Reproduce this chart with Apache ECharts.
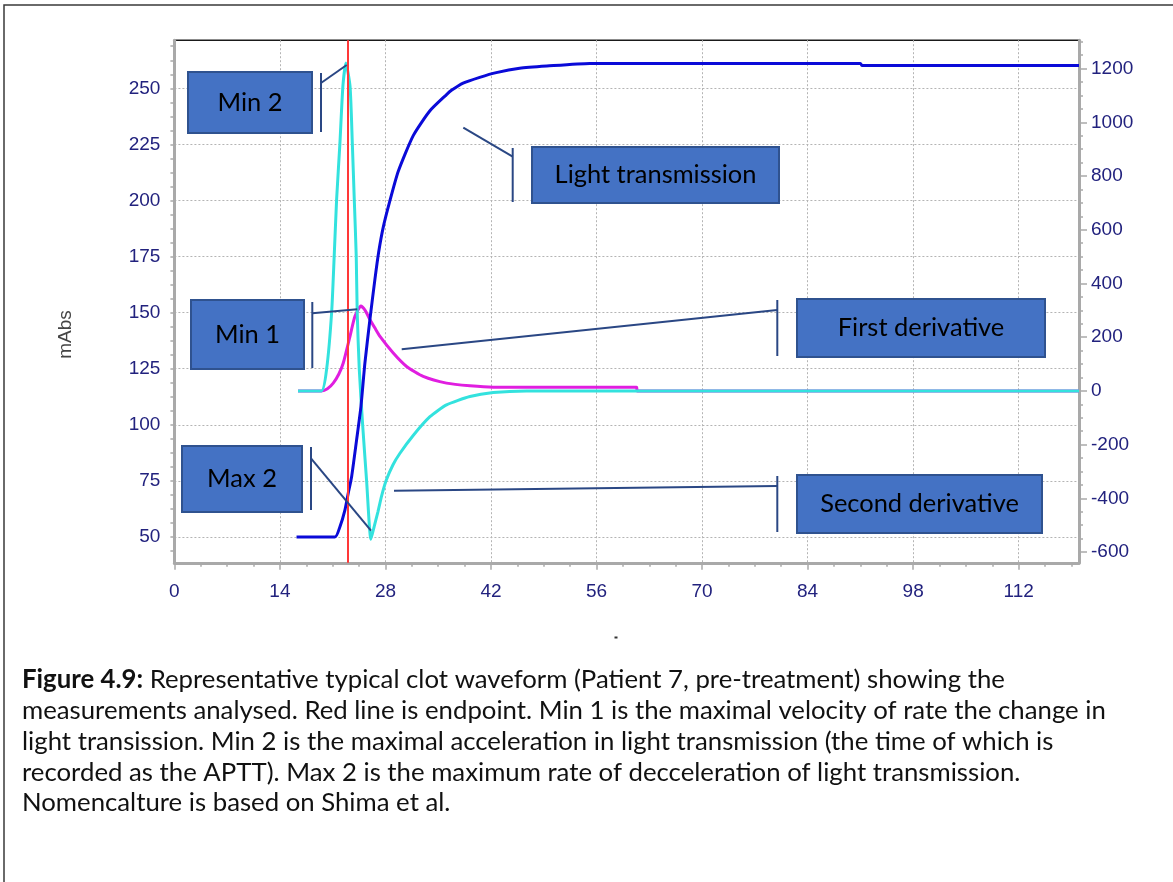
<!DOCTYPE html>
<html>
<head>
<meta charset="utf-8">
<script src="https://cdn.jsdelivr.net/npm/echarts@6/dist/echarts.min.js"></script>
<style>
html,body{margin:0;padding:0;background:#fff;}
#c{width:1173px;height:882px;}
</style>
</head>
<body>
<div id="c"></div>
<script>
// ---------------- DATA ----------------
// Light transmission (mAbs, left axis)
const ltTime  = [16.2, 21.3, 21.96, 22.62, 23.06, 23.51, 24.17, 24.74, 25.27, 25.93, 26.59, 27.1, 27.7, 28.6, 29.7, 31.7, 33.9, 36.1, 36.8, 38.3, 40.5, 42.7, 45.8, 49.4, 55.1, 91.0, 91.2, 120];
const ltValue = [50, 50, 54.6, 62, 69.5, 76.9, 93.3, 108, 127.5, 146.8, 164.6, 177, 188, 200, 213, 229, 240, 247.2, 249.2, 252.3, 254.9, 257, 258.9, 259.9, 261.1, 261.1, 260.2, 260.2];
// First derivative (right axis)
const d1Time  = [16.4, 19.5, 20.3, 21.07, 21.8, 22.4, 23.29, 23.95, 24.74, 25.3, 25.93, 26.6, 27.27, 29.03, 30.8, 33.0, 36.1, 39.2, 42.3, 61.3, 61.4, 120];
const d1Value = [0, 0, 8, 29, 62, 104, 203, 278, 316, 300, 266, 234, 203, 141, 91, 54, 29, 19, 14, 14, 0, 0];
// Second derivative (right axis)
const d2Time  = [16.4, 19.5, 20.2, 20.86, 21.2, 21.52, 21.96, 22.35, 22.75, 23.3, 23.6, 23.86, 24.12, 24.25, 24.52, 24.97, 25.5, 26.07, 26.5, 27.0, 27.5, 28.1, 29.0, 29.9, 31.7, 33.9, 36.1, 39.2, 42.3, 46.7, 120];
const d2Value = [0, 0, 83, 293, 503, 714, 924, 1134, 1221, 1134, 924, 714, 503, 293, 83, -126, -336, -552, -505, -450, -390, -333, -275, -233, -165, -96, -52, -21, -6, 0, 0];
// Endpoint (red line)
const endpointTime = 23.06;
// Tick labels
const xTicks = [0, 14, 28, 42, 56, 70, 84, 98, 112];
const leftTicks = [50, 75, 100, 125, 150, 175, 200, 225, 250];
const rightTicks = [-600, -400, -200, 0, 200, 400, 600, 800, 1000, 1200];
const yAxisName = 'mAbs';
const annotations = ['Min 2', 'Min 1', 'Max 2', 'Light transmission', 'First derivative', 'Second derivative'];
const captionLines = [
  '{b|Figure 4.9:} Representative typical clot waveform (Patient 7, pre-treatment) showing the',
  'measurements analysed. Red line is endpoint. Min 1 is the maximal velocity of rate the change in',
  'light transission. Min 2 is the maximal acceleration in light transmission (the time of which is',
  'recorded as the APTT). Max 2 is the maximum rate of decceleration of light transmission.',
  'Nomencalture is based on Shima et al.'
];

// ---------------- LAYOUT ----------------
const X_MIN = 0, X_MAX = 120;
const L_MIN = 38.5, L_MAX = 271.44;
const R_MIN = -640, R_MAX = 1306;
const AXIS_GRAY = '#a9a9a9';
const LABEL_COLOR = '#22227e';
const TICK_FONT = 'Liberation Sans';
const TICK_SIZE = 19;
const TEXT_FONT = 'Lato';

function zip(a, b) { return a.map((v, i) => [v, b[i]]); }
function minorBetween(majors, step, lo, hi) {
  const out = [];
  const start = Math.ceil((lo - majors[0]) / step);
  for (let v = majors[0] + start * step; v <= hi + 1e-9; v += step) {
    const isMajor = majors.some(m => Math.abs(m - v) < 1e-6);
    if (!isMajor && v > lo + 1e-6 && v < hi - 1e-6) out.push(+v.toFixed(4));
  }
  return out;
}
const xMinor = minorBetween(xTicks, 3.5, X_MIN, X_MAX);
const leftMinor = minorBetween(leftTicks, 6.25, L_MIN, L_MAX);
const rightMinor = minorBetween(rightTicks, 50, R_MIN, R_MAX);

// text measuring for font-size fitting
const mctx = document.createElement('canvas').getContext('2d');
function tw(text, font) { mctx.font = font; return mctx.measureText(text).width; }
const capSize = 20 * 1084 / tw(captionLines[1], '20px ' + TEXT_FONT);
const boxSize = 20 * 202 / tw('Light transmission', '20px ' + TEXT_FONT);

const chart = echarts.init(document.getElementById('c'), null, {renderer: 'canvas'});

const labelStyle = {fontFamily: TICK_FONT, fontSize: TICK_SIZE, color: LABEL_COLOR, formatter: v => String(v)};

const boxes = [
  {t: annotations[0], x: 188, y: 72,  w: 124, h: 61, bar: [321, 73, 132],   diag: [321, 83, 346.7, 65]},
  {t: annotations[1], x: 191, y: 300, w: 113, h: 69, bar: [312.3, 302, 368], diag: [312.3, 313.3, 357.3, 309.3]},
  {t: annotations[2], x: 182, y: 446, w: 120, h: 66, bar: [311, 447, 510],   diag: [311, 458.3, 371, 530.7]},
  {t: annotations[3], x: 532, y: 147, w: 247, h: 56, bar: [512.7, 148, 202], diag: [512.7, 156.7, 463.3, 127.7]},
  {t: annotations[4], x: 797, y: 299, w: 248, h: 58, bar: [777.3, 300, 356], diag: [777.3, 310, 401.7, 349.3]},
  {t: annotations[5], x: 797, y: 475, w: 245, h: 58, bar: [777.3, 476, 532], diag: [777.3, 486, 394, 490.7]}
];
const CONN = '#2a4784';

const graphics = [];
// outer frame
graphics.push({type: 'rect', z: 0, silent: true, shape: {x: 4, y: 5, width: 1300, height: 1000},
  style: {fill: 'none', stroke: '#3a3a3a', lineWidth: 1.5}});
// y axis name
graphics.push({type: 'text', z: 50, x: 66, y: 334.5, rotation: Math.PI / 2,
  style: {text: yAxisName, fontFamily: TICK_FONT, fontSize: 19, fill: '#444', align: 'center', verticalAlign: 'middle'}});
boxes.forEach(b => {
  graphics.push({type: 'rect', z: 100, shape: {x: b.x, y: b.y, width: b.w, height: b.h},
    style: {fill: '#4472c4', stroke: '#2f528f', lineWidth: 2}});
  graphics.push({type: 'text', z: 101, x: b.x + b.w / 2, y: b.y + b.h / 2,
    style: {text: b.t, fontFamily: TEXT_FONT, fontSize: boxSize, fill: '#000', align: 'center', verticalAlign: 'middle'}});
  graphics.push({type: 'line', z: 100, shape: {x1: b.bar[0], y1: b.bar[1], x2: b.bar[0], y2: b.bar[2]},
    style: {stroke: CONN, lineWidth: 2}});
  graphics.push({type: 'line', z: 100, shape: {x1: b.diag[0], y1: b.diag[1], x2: b.diag[2], y2: b.diag[3]},
    style: {stroke: CONN, lineWidth: 2}});
});
// small stray mark
graphics.push({type: 'rect', z: 50, shape: {x: 614.5, y: 636.5, width: 3, height: 2}, style: {fill: '#333'}});
// caption
captionLines.forEach((line, i) => {
  graphics.push({type: 'text', z: 50, x: 22, y: 680 + i * 30.8,
    style: {text: line, fontFamily: TEXT_FONT, fontSize: capSize, fill: '#111', align: 'left', verticalAlign: 'middle',
      rich: {b: {fontFamily: TEXT_FONT, fontSize: capSize, fontWeight: 'bold', fill: '#111'}}}});
});

const lineCommon = {symbol: 'none', showSymbol: false, smooth: 0.2, xAxisIndex: 0};

const option = {
  animation: false,
  backgroundColor: '#ffffff',
  grid: {left: 174.4, top: 40.2, right: 94, bottom: 319.2, show: true, backgroundColor: '#fff',
    borderColor: '#1a1a1a', borderWidth: 1.5},
  xAxis: [
    {type: 'value', min: X_MIN, max: X_MAX, position: 'bottom',
      axisLine: {show: true, onZero: false, lineStyle: {color: AXIS_GRAY, width: 3}},
      axisTick: {show: true, customValues: xTicks, length: 7, lineStyle: {color: AXIS_GRAY, width: 1.5}},
      axisLabel: Object.assign({customValues: xTicks, margin: 19}, labelStyle),
      splitLine: {show: true, lineStyle: {color: '#b4b4b4', width: 1, type: [2, 2]}}},
    {type: 'value', min: X_MIN, max: X_MAX, position: 'bottom',
      axisLine: {show: false, onZero: false},
      axisTick: {show: true, customValues: xMinor, length: 4, lineStyle: {color: AXIS_GRAY, width: 1.5}},
      axisLabel: {show: false}, splitLine: {show: false}}
  ],
  yAxis: [
    {type: 'value', min: L_MIN, max: L_MAX, position: 'left',
      axisLine: {show: true, onZero: false, lineStyle: {color: AXIS_GRAY, width: 3}},
      axisTick: {show: true, customValues: leftTicks, length: 4, lineStyle: {color: AXIS_GRAY, width: 1.5}},
      axisLabel: Object.assign({customValues: leftTicks, margin: 14}, labelStyle),
      splitLine: {show: true, lineStyle: {color: '#b4b4b4', width: 1, type: [2, 2]}}},
    {type: 'value', min: R_MIN, max: R_MAX, position: 'right',
      axisLine: {show: true, onZero: false, lineStyle: {color: AXIS_GRAY, width: 3}},
      axisTick: {show: true, customValues: rightTicks, length: 8, lineStyle: {color: AXIS_GRAY, width: 1.5}},
      axisLabel: Object.assign({customValues: rightTicks, margin: 12}, labelStyle),
      splitLine: {show: false}},
    {type: 'value', min: L_MIN, max: L_MAX, position: 'left',
      axisLine: {show: false, onZero: false},
      axisTick: {show: true, customValues: leftMinor, length: 4, lineStyle: {color: AXIS_GRAY, width: 1.5}},
      axisLabel: {show: false}, splitLine: {show: false}},
    {type: 'value', min: R_MIN, max: R_MAX, position: 'right',
      axisLine: {show: false, onZero: false},
      axisTick: {show: true, customValues: rightMinor, length: 4, lineStyle: {color: AXIS_GRAY, width: 1.5}},
      axisLabel: {show: false}, splitLine: {show: false}}
  ],
  series: [
    Object.assign({type: 'line', name: 'First derivative', yAxisIndex: 1, data: zip(d1Time, d1Value),
      z: 2, lineStyle: {color: '#e01ee0', width: 3}}, lineCommon),
    Object.assign({type: 'line', name: 'Second derivative', yAxisIndex: 1, data: zip(d2Time, d2Value),
      z: 3, lineStyle: {color: '#33e2de', width: 3}}, lineCommon),
    Object.assign({type: 'line', name: 'Light transmission', yAxisIndex: 0, data: zip(ltTime, ltValue),
      z: 4, lineStyle: {color: '#0a0ad8', width: 3}}, lineCommon),
    {type: 'line', name: 'Endpoint', xAxisIndex: 0, yAxisIndex: 0, data: [], z: 10,
      markLine: {silent: true, symbol: 'none', label: {show: false}, animation: false,
        lineStyle: {color: '#ff3838', width: 2, type: 'solid'},
        data: [{xAxis: endpointTime}]}}
  ],
  graphic: {elements: graphics}
};
chart.setOption(option);
</script>
</body>
</html>
